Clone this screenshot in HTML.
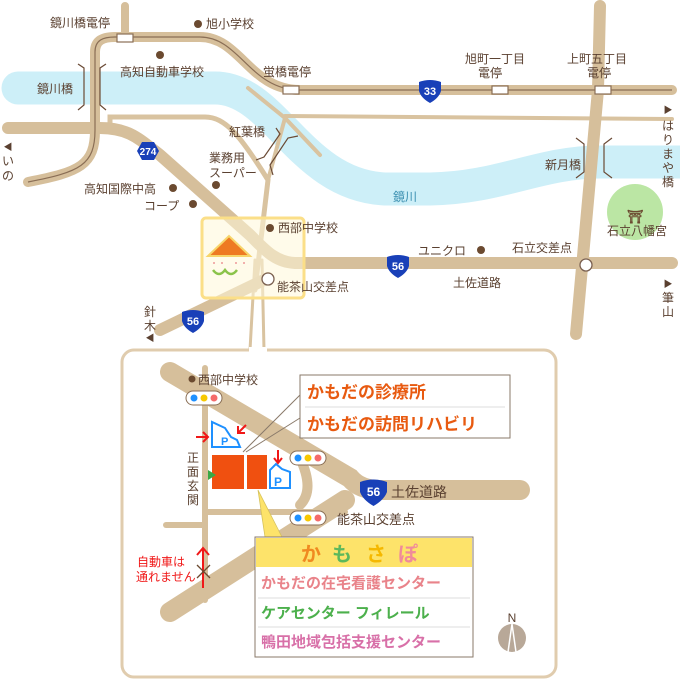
<!DOCTYPE html>
<html><head><meta charset="utf-8"><style>
html,body{margin:0;padding:0;background:#fff}
svg{display:block}
text{font-family:"Liberation Sans","Noto Sans CJK JP",sans-serif;fill:#5a4030;font-size:12px}
.b{font-weight:bold}
</style></head><body>
<svg width="680" height="680" viewBox="0 0 680 680" xmlns="http://www.w3.org/2000/svg">
<defs>
<path id="sh" d="M-11,-9 Q0,-13 11,-9 L11,0 Q9,7 0,12 Q-9,7 -11,0 Z" fill="#1940b8"/>
</defs>
<!-- river -->
<path d="M18,88 L215,88 C275,88 300,185 385,189 L430,189 C500,188 540,162 600,162 L680,162" fill="none" stroke="#cdeff8" stroke-width="33" stroke-linecap="round"/>
<circle cx="635" cy="212" r="28" fill="#b4e39a" opacity="0.9"/>
<g fill="none" stroke="#d9c3a0" stroke-linecap="round">
<path d="M110,124 L110,117 L205,117 C225,117 240,135 268,180 L255,290" stroke-width="5"/>
<path d="M285,116 L672,119" stroke-width="4"/>
<path d="M285,118 L320,155" stroke-width="4"/>
<path d="M248,88 L285,118 L268,180" stroke-width="4"/>
<path d="M255,260 L250,350 M262,260 L264,350" stroke-width="3"/>
</g>
<g fill="none" stroke="#d6bf9b" stroke-linecap="round">
<path d="M125,6 L125,36" stroke-width="8"/>
<path d="M600,6 L598,90 L576,334" stroke-width="12"/>
<path d="M8,128 L100,128 C130,128 140,140 160,155 L250,235 C265,250 275,262 295,263 L672,263" stroke-width="12"/>
<path d="M268,278 L160,330" stroke-width="12"/>
<path d="M28,182 C80,172 95,165 95,130 L95,52 C95,40 103,37 115,37 L200,37 C240,37 250,90 300,90 L672,90" stroke-width="10"/>
</g>
<path d="M28,182 C80,172 95,165 95,130 L95,52 C95,40 103,37 115,37 L200,37 C240,37 250,90 300,90 L672,90" fill="none" stroke="#8a6e55" stroke-width="1.2"/>
<g fill="none" stroke="#6a4a35" stroke-width="1.2">
<path d="M78,64 L84,68 L84,105 L78,110 M106,64 L100,68 L100,105 L106,110"/>
<path d="M576,138 L584,144 L584,172 L576,178 M612,138 L604,144 L604,172 L612,178"/>
<path d="M276,128 L280,134 L264,157 L256,160 M298,136 L288,138 L270,165 L273,175"/>
</g>
<g fill="#fff" stroke="#8a6e55" stroke-width="1.2">
<rect x="117" y="34" width="16" height="8"/><rect x="283" y="86" width="16" height="8"/>
<rect x="492" y="86" width="16" height="8"/><rect x="595" y="86" width="16" height="8"/>
</g>
<rect x="202" y="218" width="102" height="80" rx="4" fill="#fff8d8" fill-opacity="0.55" stroke="#fbdf88" stroke-width="3"/>
<circle cx="268" cy="279" r="6" fill="#fff" stroke="#7a6050" stroke-width="1.3"/>
<circle cx="586" cy="265" r="6" fill="#fff" stroke="#7a6050" stroke-width="1.3"/>
<path d="M208,256 L229,236 L250,256 Z" fill="#ee7a22" stroke="#f7d56a" stroke-width="2"/>
<path d="M213,270 q6,8 12,0 q6,8 12,0" fill="none" stroke="#8bc34a" stroke-width="2.5"/>
<g fill="#e99"><circle cx="214" cy="263" r="1"/><circle cx="222" cy="263" r="1"/><circle cx="236" cy="263" r="1"/><circle cx="244" cy="263" r="1"/></g>
<g fill="#6b4a30"><circle cx="198" cy="24" r="4"/><circle cx="160" cy="55" r="4"/><circle cx="173" cy="188" r="4"/><circle cx="193" cy="204" r="4"/><circle cx="216" cy="185" r="4"/><circle cx="270" cy="228" r="4"/><circle cx="481" cy="250" r="4"/></g>
<g>
<path d="M137,151 L142,142 L154,142 L159,151 L154,160 L142,160 Z" fill="#1940b8"/><text x="148" y="155" text-anchor="middle" class="b" style="fill:#fff;font-size:10px">274</text>
<use href="#sh" x="430" y="91"/><text x="430" y="95" text-anchor="middle" class="b" style="fill:#fff;font-size:11px">33</text>
<use href="#sh" x="398" y="266"/><text x="398" y="270" text-anchor="middle" class="b" style="fill:#fff;font-size:11px">56</text>
<use href="#sh" x="193" y="321"/><text x="193" y="325" text-anchor="middle" class="b" style="fill:#fff;font-size:11px">56</text>
</g>
<text x="50" y="27">鏡川橋電停</text>
<text x="206" y="28">旭小学校</text>
<text x="120" y="76">高知自動車学校</text>
<text x="263" y="76">蛍橋電停</text>
<text x="37" y="93">鏡川橋</text>
<text x="465" y="63">旭町一丁目</text><text x="478" y="77">電停</text>
<text x="567" y="63">上町五丁目</text><text x="587" y="77">電停</text>
<text x="229" y="136">紅葉橋</text>
<text x="209" y="162">業務用</text><text x="209" y="177">スーパー</text>
<text x="84" y="193">高知国際中高</text>
<text x="144" y="210">コープ</text>
<text x="278" y="232">西部中学校</text>
<text x="277" y="291">能茶山交差点</text>
<text x="418" y="255">ユニクロ</text>
<text x="512" y="252">石立交差点</text>
<text x="453" y="287">土佐道路</text>
<text x="545" y="169">新月橋</text>
<text x="393" y="201" style="fill:#3a8fb0">鏡川</text>
<text x="607" y="235">石立八幡宮</text>
<text x="635" y="221" text-anchor="middle" class="b" style="fill:#6b4a30;font-size:13px">⛩</text>
<text x="668" y="113" text-anchor="middle" style="font-size:9px">▶</text>
<text x="668" y="130" text-anchor="middle">は</text><text x="668" y="144" text-anchor="middle">り</text><text x="668" y="158" text-anchor="middle">ま</text><text x="668" y="172" text-anchor="middle">や</text><text x="668" y="186" text-anchor="middle">橋</text>
<text x="668" y="287" text-anchor="middle" style="font-size:9px">▶</text>
<text x="668" y="302" text-anchor="middle">筆</text><text x="668" y="316" text-anchor="middle">山</text>
<text x="8" y="150" text-anchor="middle" style="font-size:9px">◀</text>
<text x="8" y="165" text-anchor="middle">い</text><text x="8" y="180" text-anchor="middle">の</text>
<text x="150" y="316" text-anchor="middle">針</text><text x="150" y="330" text-anchor="middle">木</text><text x="150" y="341" text-anchor="middle" style="font-size:9px">◀</text>

<rect x="122" y="350" width="434" height="327" rx="12" fill="#fff" stroke="#e0ccae" stroke-width="3"/>
<rect x="249" y="347" width="18" height="6" fill="#fff"/>
<g fill="none" stroke="#d6bf9b" stroke-linecap="round">
<path d="M170,372 L350,478 Q360,490 380,490 L520,490" stroke-width="20"/>
<path d="M170,612 L345,500" stroke-width="20"/>
<path d="M300,458 Q315,490 300,505" stroke-width="10"/>
<path d="M205,368 L205,600" stroke-width="6"/>
<path d="M205,512 L345,512" stroke-width="6"/>
<path d="M166,525 L205,525" stroke-width="6"/>
</g>
<circle cx="192" cy="379" r="3.5" fill="#6b4a30"/><text x="198" y="384">西部中学校</text>
<g>
<rect x="186" y="391" width="36" height="14" rx="7" fill="#fff" stroke="#8a6e55"/><circle cx="194" cy="398" r="3.5" fill="#1e90ff"/><circle cx="204" cy="398" r="3.5" fill="#f7c800"/><circle cx="214" cy="398" r="3.5" fill="#f56b6b"/>
<rect x="290" y="451" width="36" height="14" rx="7" fill="#fff" stroke="#8a6e55"/><circle cx="298" cy="458" r="3.5" fill="#1e90ff"/><circle cx="308" cy="458" r="3.5" fill="#f7c800"/><circle cx="318" cy="458" r="3.5" fill="#f56b6b"/>
<rect x="290" y="511" width="36" height="14" rx="7" fill="#fff" stroke="#8a6e55"/><circle cx="298" cy="518" r="3.5" fill="#1e90ff"/><circle cx="308" cy="518" r="3.5" fill="#f7c800"/><circle cx="318" cy="518" r="3.5" fill="#f56b6b"/>
</g>
<use href="#sh" x="373.5" y="491" transform="translate(-97 -130) scale(1.26)" style="display:none"/>
<path d="M360,482 Q373.5,477 387,482 L387,492 Q384,500 373.5,506 Q363,500 360,492 Z" fill="#1940b8"/>
<text x="373.5" y="496" text-anchor="middle" class="b" style="fill:#fff;font-size:12px">56</text>
<text x="391" y="497" style="font-size:14px">土佐道路</text>
<text x="337" y="524" style="font-size:13px">能茶山交差点</text>
<path d="M243,452 L300,395 M246,452 L300,418" stroke="#8a7a6a" stroke-width="1" fill="none"/>
<rect x="300" y="375" width="210" height="63" fill="#fff" stroke="#8a7a6a"/>
<line x1="305" y1="407" x2="505" y2="407" stroke="#ddd"/>
<text x="307" y="398" class="b" style="fill:#e85a10;font-size:17px">かもだの診療所</text>
<text x="307" y="430" class="b" style="fill:#e85a10;font-size:17px">かもだの訪問リハビリ</text>
<rect x="212" y="455" width="32" height="34" fill="#f05010"/><rect x="247" y="455" width="20" height="34" fill="#f05010"/>
<path d="M208,470 L216,475 L208,480 Z" fill="#3aa845"/>
<g fill="none" stroke="#1e90ff" stroke-width="2">
<path d="M212,447 L212,422 L225,428 L231,437 L237,440 L240,447 Z"/>
<path d="M270,488 L270,470 L276,464 L282,469 L290,472 L290,488 Z"/>
</g>
<text x="221" y="445" class="b" style="fill:#1e90ff;font-size:11px">P</text>
<text x="274" y="486" class="b" style="fill:#1e90ff;font-size:12px">P</text>
<g stroke="#f01818" stroke-width="2" fill="none">
<path d="M196,437 L208,437 M203,432 L208,437 L203,442"/>
<path d="M246,425 L238,433 M238,426 L238,433 L245,433"/>
<path d="M278,450 L278,463 M274,458 L278,463 L282,458"/>
<path d="M203,588 L203,548 M197,555 L203,548 L209,555"/>
</g>
<path d="M197,565 L210,578 M210,565 L197,578" stroke="#6b4a30" stroke-width="1.3"/>
<text x="137" y="566" style="fill:#f01818">自動車は</text>
<text x="136" y="581" style="fill:#f01818">通れません</text>
<text x="193" y="462" text-anchor="middle">正</text><text x="193" y="476" text-anchor="middle">面</text><text x="193" y="490" text-anchor="middle">玄</text><text x="193" y="504" text-anchor="middle">関</text>
<path d="M258,490 L265,538 L282,538 Z" fill="#fde36a"/>
<path d="M258,490 L265,537 M258,490 L282,537" stroke="#d6c25a" stroke-width="0.8" fill="none"/>
<rect x="255" y="537" width="218" height="120" fill="#fff" stroke="#8a7a6a"/>
<rect x="256" y="538" width="216" height="29" fill="#fde36a"/>
<line x1="258" y1="598" x2="470" y2="598" stroke="#ddd"/><line x1="258" y1="627" x2="470" y2="627" stroke="#ddd"/>
<text x="301" y="561" class="b" style="fill:#f08a20;font-size:20px">か</text>
<text x="332" y="561" class="b" style="fill:#5cb85c;font-size:20px">も</text>
<text x="366" y="561" class="b" style="fill:#f5b800;font-size:20px">さ</text>
<text x="398" y="561" class="b" style="fill:#f08a9a;font-size:20px">ぽ</text>
<text x="261" y="588" class="b" style="fill:#e9838a;font-size:15px">かもだの在宅看護センター</text>
<text x="261" y="618" class="b" style="fill:#4cb04c;font-size:15px">ケアセンター フィレール</text>
<text x="261" y="647" class="b" style="fill:#d870a8;font-size:15px">鴨田地域包括支援センター</text>
<circle cx="512" cy="638" r="14" fill="#b8a898"/>
<path d="M512,624 L508,652 M512,624 L516,652" stroke="#fff" stroke-width="1.5" fill="none"/>
<text x="512" y="622" text-anchor="middle" style="font-size:12px">N</text>
</svg>
</body></html>
